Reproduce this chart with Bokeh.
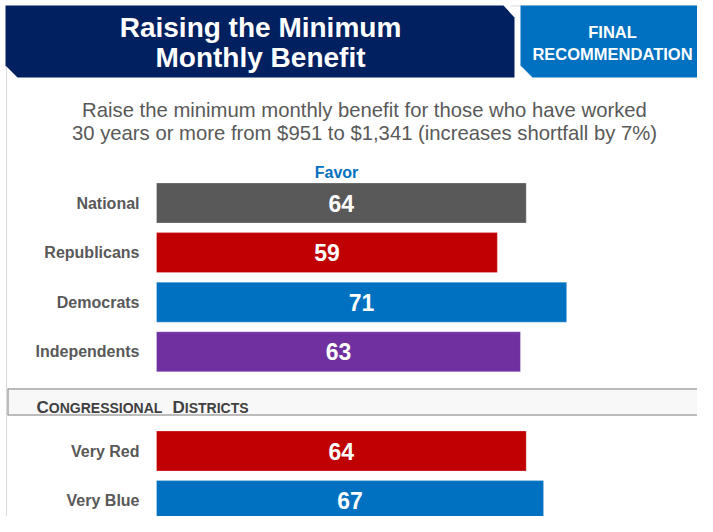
from bokeh.plotting import figure
from bokeh.models import Range1d, ColumnDataSource
from bokeh.core.properties import value
from bokeh.embed import file_html
from bokeh.resources import INLINE

# ---------------- data ----------------
groups = ["National", "Republicans", "Democrats", "Independents"]
group_favor = [64, 59, 71, 63]
group_colors = ["#595959", "#C00000", "#0070C0", "#7030A0"]

districts = ["Very Red", "Very Blue"]
district_favor = [64, 67]
district_colors = ["#C00000", "#0070C0"]

title_lines = ["Raising the Minimum", "Monthly Benefit"]
badge_lines = ["FINAL", "RECOMMENDATION"]
question_lines = [
    "Raise the minimum monthly benefit for those who have worked",
    "30 years or more from $951 to $1,341 (increases shortfall by 7%)",
]
column_label = "Favor"
section_words = ["Congressional", "Districts"]

# ---------------- layout ----------------
FONT = value("Liberation Sans")
W, H = 697, 516
ORIGIN = 0
ZERO_PX = 156.0
PX_PER_UNIT = 5.777
ROW0_PX = 202.5
ROW_PX = 49.6
BAR_PX = 40.0

x_start = (ORIGIN - ZERO_PX) / PX_PER_UNIT
x_end = (ORIGIN + W - ZERO_PX) / PX_PER_UNIT
y_bottom = (ORIGIN + H - ROW0_PX) / ROW_PX
y_top = (ORIGIN - ROW0_PX) / ROW_PX

p = figure(width=W, height=H,
           x_range=Range1d(x_start, x_end), y_range=Range1d(y_bottom, y_top),
           output_backend="svg", toolbar_location=None,
           x_axis_location=None, y_axis_location=None,
           min_border=0, title=None, outline_line_color=None,
           background_fill_color="white", border_fill_color="white")
p.grid.visible = False
p.extra_x_ranges = {"px": Range1d(ORIGIN, ORIGIN + W)}
p.extra_y_ranges = {"py": Range1d(ORIGIN + H, ORIGIN)}
PX = dict(x_range_name="px", y_range_name="py")

# page rules
p.segment(x0=[6, 510], y0=[5, 5.5], x1=[6, W], y1=[H, 5.5],
          line_color="#D9D9D9", line_width=1, **PX)

# header banners
p.patch(x=[5, 503, 514, 514, 17, 5], y=[5, 5, 17, 77, 77, 65],
        fill_color="#002060", line_color=None, **PX)
p.patch(x=[520, W, W, 532, 520], y=[5, 5, 77, 77, 65],
        fill_color="#0070C0", line_color=None, **PX)

p.text(x=[260, 260], y=[27, 57], text=title_lines, text_font=FONT,
       text_font_style="bold", text_font_size="28px", text_color="white",
       text_align="center", text_baseline="middle", **PX)
p.text(x=[612, 612], y=[31, 53], text=badge_lines, text_font=FONT,
       text_font_style="bold", text_font_size="16.5px", text_color="white",
       text_align="center", text_baseline="middle", **PX)

# question
p.text(x=[364, 364], y=[109, 132], text=question_lines, text_font=FONT,
       text_font_size="20.3px", text_color="#595959",
       text_align="center", text_baseline="middle", **PX)

# column header
p.text(x=[336], y=[172], text=[column_label], text_font=FONT,
       text_font_style="bold", text_font_size="16px", text_color="#0070C0",
       text_align="center", text_baseline="middle", **PX)

# section band
p.quad(left=[7], right=[W], top=[388], bottom=[414],
       fill_color="#F8F8F8", line_color=None, **PX)
p.segment(x0=[7, 7], y0=[388.5, 414.5], x1=[W, W], y1=[388.5, 414.5],
          line_color="#A6A6A6", line_width=1.5, **PX)
p.segment(x0=[7.5], y0=[388.5], x1=[7.5], y1=[414.5],
          line_color="#A6A6A6", line_width=1.5, **PX)

word_x = [36, 172]
CAP_W = 12.3
p.text(x=word_x, y=[407, 407], text=[w[0].upper() for w in section_words],
       text_font=FONT, text_font_style="bold", text_font_size="17px",
       text_color="#404040", text_align="left", text_baseline="alphabetic", **PX)
p.text(x=[x + CAP_W for x in word_x], y=[407, 407],
       text=[w[1:].upper() for w in section_words],
       text_font=FONT, text_font_style="bold", text_font_size="14px",
       text_color="#404040", text_align="left", text_baseline="alphabetic", **PX)

# ---------------- bars ----------------
names = groups + districts
favor = group_favor + district_favor
colors = group_colors + district_colors
rows = list(range(len(groups))) + [len(groups) + 1 + i for i in range(len(districts))]

src = ColumnDataSource(dict(
    name=names, favor=favor, color=colors, row=rows,
    mid=[v / 2 for v in favor], label=[str(v) for v in favor],
    label_x=[139] * len(names),
))

p.hbar(y="row", left=0, right="favor", height=BAR_PX / ROW_PX,
       fill_color="color", line_color="white", line_alpha=0.25, line_width=1,
       source=src)
p.text(x="mid", y="row", text="label", source=src, text_font=FONT,
       text_font_style="bold", text_font_size="23px", text_color="white",
       text_align="center", text_baseline="middle")
p.text(x="label_x", y="row", text="name", source=src, text_font=FONT,
       text_font_style="bold", text_font_size="16px", text_color="#595959",
       text_align="right", text_baseline="middle", x_range_name="px")

open("out.html", "w").write(file_html(p, INLINE))
